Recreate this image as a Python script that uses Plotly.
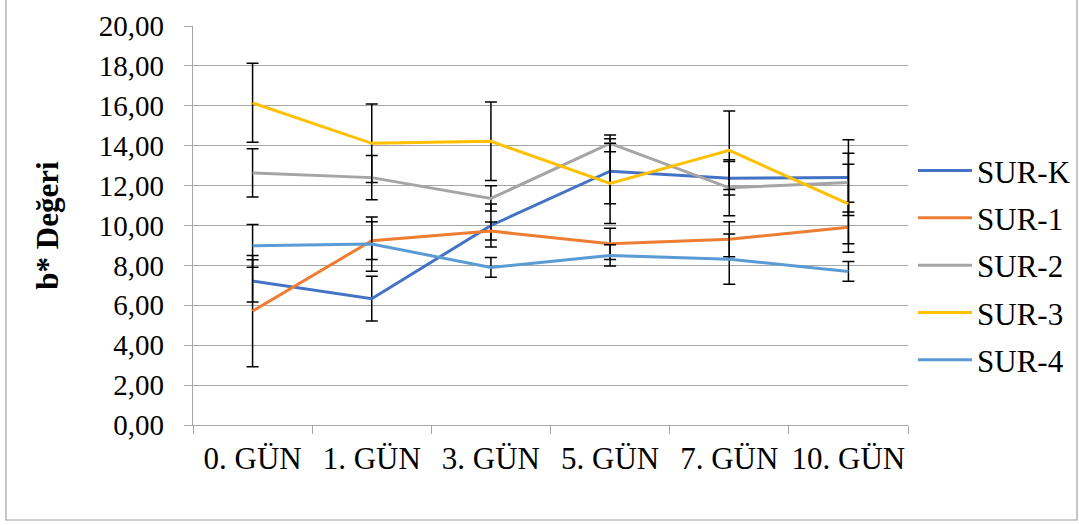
import plotly.graph_objects as go

days = ["0. GÜN", "1. GÜN", "3. GÜN", "5. GÜN", "7. GÜN", "10. GÜN"]

sur_k = [7.22, 6.33, 10.00, 12.72, 12.37, 12.40]
sur_k_err = [1.06, 1.12, 1.08, 1.63, 0.84, 1.90]
sur_1 = [5.71, 9.24, 9.72, 9.08, 9.31, 9.91]
sur_1_err = [2.79, 0.95, 0.45, 0.78, 0.88, 1.25]
sur_2 = [12.64, 12.40, 11.36, 14.12, 11.89, 12.15]
sur_2_err = [1.21, 1.11, 0.63, 0.42, 1.40, 1.47]
sur_3 = [16.15, 14.12, 14.22, 12.11, 13.77, 11.08]
sur_3_err = [1.98, 1.97, 1.97, 2.01, 1.97, 1.99]
sur_4 = [8.98, 9.07, 7.90, 8.50, 8.31, 7.70]
sur_4_err = [1.07, 1.36, 0.50, 0.53, 1.26, 0.50]

names = ["SUR-K", "SUR-1", "SUR-2", "SUR-3", "SUR-4"]
values = [sur_k, sur_1, sur_2, sur_3, sur_4]
errors = [sur_k_err, sur_1_err, sur_2_err, sur_3_err, sur_4_err]
colors = ["#4472C4", "#ED7D31", "#A5A5A5", "#FFC000", "#5B9BD5"]

FONT = "Liberation Serif, Times New Roman, serif"
GRID = "#a6a6a6"

fig = go.Figure()
for n, v, e, c in zip(names, values, errors, colors):
    fig.add_trace(go.Scatter(
        x=days, y=v, name=n, mode="lines", legendgroup=n,
        line=dict(color=c, width=3),
        error_y=dict(type="data", array=e, visible=True,
                     color="black", thickness=1.5, width=6),
    ))

fig.update_layout(
    width=1079, height=525,
    margin=dict(l=193, r=171, t=26, b=100, autoexpand=False),
    paper_bgcolor="white", plot_bgcolor="white",
    separators=",.",
    font=dict(family=FONT, color="black", size=30),
    showlegend=True,
    legend=dict(x=1.007, xanchor="left", y=0.40, yanchor="middle",
                font=dict(family=FONT, size=31, color="black"),
                itemwidth=54, bgcolor="rgba(0,0,0,0)", tracegroupgap=4),
    shapes=[dict(type="rect", xref="paper", yref="paper",
                 x0=(6 - 193) / 715, x1=(1077 - 193) / 715,
                 y0=(425 - 520) / 399, y1=(425 + 5) / 399,
                 line=dict(color="#a0a0a0", width=1.2), layer="below")],
)

fig.update_xaxes(
    type="category", range=[-0.5, 5.5], showgrid=False, showline=True,
    linecolor=GRID, linewidth=1.3, tickangle=0,
    ticks="outside", tickson="boundaries", ticklen=8, tickcolor=GRID, tickwidth=1.3,
    tickfont=dict(family=FONT, size=31, color="black"), ticklabelstandoff=6,
)
fig.update_yaxes(
    range=[0, 20], dtick=2, tickformat=".2f",
    showgrid=True, gridcolor=GRID, gridwidth=1.3,
    showline=True, linecolor=GRID, linewidth=1.3,
    ticks="outside", ticklen=8, tickcolor=GRID, tickwidth=1.3,
    tickfont=dict(family=FONT, size=29, color="black"), ticklabelstandoff=14,
    zeroline=False,
    title=dict(text="<b>b* Değeri</b>", font=dict(family=FONT, size=31, color="black"),
               standoff=30),
)

fig.write_html("out.html")
